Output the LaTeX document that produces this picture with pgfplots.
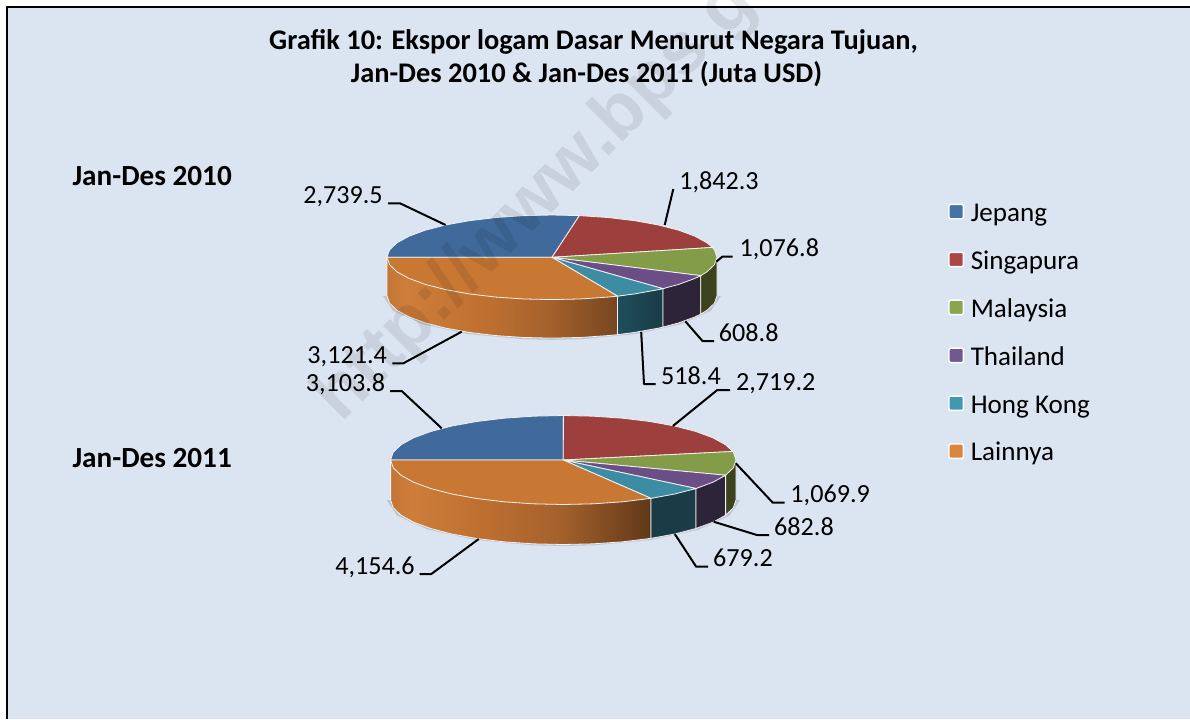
\documentclass[border=0pt]{standalone}
\usepackage{fontspec}
\setmainfont{Carlito}
\newfontfamily\wmfont{Liberation Sans}
\usepackage{pgfplots}
\pgfplotsset{compat=1.18}

\definecolor{bg}{RGB}{219,229,241}
\definecolor{jep}{RGB}{64,106,155}
\definecolor{sin}{RGB}{157,63,61}
\definecolor{mal}{RGB}{130,156,72}
\definecolor{tha}{RGB}{107,78,134}
\definecolor{hk}{RGB}{60,141,164}
\definecolor{lai}{RGB}{201,120,52}
\definecolor{malw}{RGB}{60,66,30}
\definecolor{thaw}{RGB}{46,36,58}
\definecolor{hkl}{RGB}{32,78,92}
\definecolor{hkr}{RGB}{25,60,70}
\definecolor{shadow}{RGB}{188,196,210}
\definecolor{w0}{RGB}{196,118,55}
\definecolor{w1}{RGB}{206,126,58}
\definecolor{w2}{RGB}{190,111,48}
\definecolor{w3}{RGB}{165,97,44}
\definecolor{w4}{RGB}{118,70,32}
\definecolor{w5}{RGB}{96,56,24}
\definecolor{legjep}{RGB}{69,114,167}
\definecolor{legsin}{RGB}{170,70,67}
\definecolor{legmal}{RGB}{137,165,78}
\definecolor{legtha}{RGB}{113,88,143}
\definecolor{leghk}{RGB}{65,152,175}
\definecolor{leglai}{RGB}{219,132,61}
% pgf fits the 25bp--75bp part of a shading to the path
\pgfdeclarehorizontalshading{wallA}{100bp}{color(0bp)=(w0); color(25bp)=(w0); color(29bp)=(w1); color(47.5bp)=(w2); color(60bp)=(w3); color(75bp)=(w4); color(100bp)=(w4)}
\pgfdeclarehorizontalshading{wallB}{100bp}{color(0bp)=(w0); color(25bp)=(w0); color(29bp)=(w1); color(42.5bp)=(w2); color(57.5bp)=(w3); color(75bp)=(w5); color(100bp)=(w5)}

\tikzset{
    lab/.style={font=\fontsize{19.6}{24}\selectfont, inner sep=0pt, anchor=base west},
    head/.style={font=\fontsize{21.3}{26}\selectfont\bfseries, inner sep=0pt},
    year/.style={font=\fontsize{21.9}{26}\selectfont\bfseries, inner sep=0pt, anchor=base west},
}

\begin{document}
\begin{tikzpicture}
\begin{axis}[
    scale only axis, width=892.5pt, height=539.25pt,
    xmin=0, xmax=1190, ymin=0, ymax=719, y dir=reverse,
    hide axis,
    face/.style={forget plot, draw=white!90!gray, line width=0.6pt, line join=round},
    lead/.style={forget plot, black, line width=1.5pt, line join=round},
    legend image code/.code={\draw[#1, rounded corners=1pt] (-5.4pt,-3.1pt) rectangle (5.4pt,7.7pt);},
    legend cell align=left,
    legend style={at={(axis cs:948,201)}, anchor=north west, draw=none, fill=none,
        font=\fontsize{20.3}{24}\selectfont, inner sep=0pt, row sep=15.95pt, column sep=5pt,
        nodes={text height=15pt, text depth=5pt, inner sep=0pt}},
]
% page and frame
\addplot[forget plot, draw=none, fill=white] coordinates {(0,0)(1190,0)(1190,719)(0,719)} --cycle;
\addplot[forget plot, draw=none, fill=bg] coordinates {(7,7)(1190,7)(1190,719)(7,719)} --cycle;
\addplot[forget plot, black, line width=1.5pt] coordinates {(7,719)(7,7)(1190,7)};

% Jan-Des 2010: shadow, side walls, top slices
\addplot[forget plot, draw=none, fill=shadow] coordinates {(383,295.8)(393.2,310.85)(422.54,324.08)(467.5,333.9)(522.65,339.13)(552,339.8)(581.35,339.13)(636.5,333.9)(681.46,324.08)(710.8,310.85)(721,295.8)} --cycle;
\addplot[face, shading=wallA] coordinates {(617.56,296.12)(617.56,334.62)(608.43,335.55)(580.65,337.46)(552,338.1)(523.35,337.46)(495.57,335.55)(469.5,332.43)(445.94,328.2)(425.6,322.99)(409.11,316.95)(396.95,310.27)(389.51,303.15)(387,295.8)(387,257.3)} --cycle;
\addplot[face, left color=hkl, right color=hkr] coordinates {(662.94,288.61)(662.94,327.11)(658.06,328.2)(634.5,332.43)(617.56,334.62)(617.56,296.12)} --cycle;
\addplot[face, fill=thaw] coordinates {(700.75,275.6)(700.75,314.1)(694.89,316.95)(678.4,322.99)(662.94,327.11)(662.94,288.61)} --cycle;
\addplot[face, fill=malw] coordinates {(717,257.3)(717,295.8)(714.49,303.15)(707.05,310.27)(700.75,314.1)(700.75,275.6)} --cycle;
\addplot[face, fill=jep] coordinates {(552,257.3)(387,257.3)(389.51,249.95)(396.95,242.83)(409.11,236.15)(425.6,230.11)(445.94,224.9)(469.5,220.67)(495.57,217.55)(523.35,215.64)(552,215)(579.37,215.59)} --cycle;
\addplot[face, fill=sin] coordinates {(552,257.3)(579.37,215.59)(608.43,217.55)(634.5,220.67)(658.06,224.9)(678.4,230.11)(694.89,236.15)(707.05,242.83)(712.44,247.43)} --cycle;
\addplot[face, fill=mal] coordinates {(552,257.3)(712.44,247.43)(714.49,249.95)(717,257.3)(714.49,264.65)(707.05,271.77)(700.75,275.6)} --cycle;
\addplot[face, fill=tha] coordinates {(552,257.3)(700.75,275.6)(694.89,278.45)(678.4,284.49)(662.94,288.61)} --cycle;
\addplot[face, fill=hk] coordinates {(552,257.3)(662.94,288.61)(658.06,289.7)(634.5,293.93)(617.56,296.12)} --cycle;
\addplot[face, fill=lai] coordinates {(552,257.3)(617.56,296.12)(608.43,297.05)(580.65,298.96)(552,299.6)(523.35,298.96)(495.57,297.05)(469.5,293.93)(445.94,289.7)(425.6,284.49)(409.11,278.45)(396.95,271.77)(389.51,264.65)(387,257.3)} --cycle;

% Jan-Des 2011
\addplot[forget plot, draw=none, fill=shadow] coordinates {(386.6,500)(397.26,515.73)(427.94,529.57)(474.95,539.84)(532.62,545.3)(563.3,546)(593.98,545.3)(651.65,539.84)(698.66,529.57)(729.34,515.73)(740,500)} --cycle;
\addplot[face, shading=wallB] coordinates {(651.03,498.33)(651.03,538.33)(622.37,541.82)(593.29,543.82)(563.3,544.5)(533.31,543.82)(504.23,541.82)(476.95,538.54)(452.29,534.09)(431,528.6)(413.74,522.25)(401.01,515.22)(393.22,507.73)(390.6,500)(390.6,460)} --cycle;
\addplot[face, fill=hkr] coordinates {(696.04,488.47)(696.04,528.47)(674.31,534.09)(651.03,538.33)(651.03,498.33)} --cycle;
\addplot[face, fill=thaw] coordinates {(725.63,475.19)(725.63,515.19)(712.86,522.25)(696.04,528.47)(696.04,488.47)} --cycle;
\addplot[face, fill=malw] coordinates {(736,460)(736,500)(733.38,507.73)(725.63,515.19)(725.63,475.19)} --cycle;
\addplot[face, fill=jep] coordinates {(563.3,460)(390.6,460)(393.22,452.27)(401.01,444.78)(413.74,437.75)(431,431.4)(452.29,425.91)(476.95,421.46)(504.23,418.18)(533.31,416.18)(563.4,415.5)} --cycle;
\addplot[face, fill=sin] coordinates {(563.3,460)(563.4,415.5)(593.29,416.18)(622.37,418.18)(649.65,421.46)(674.31,425.91)(695.6,431.4)(712.86,437.75)(725.59,444.78)(732.78,451.45)} --cycle;
\addplot[face, fill=mal] coordinates {(563.3,460)(732.78,451.45)(733.38,452.27)(736,460)(733.38,467.73)(725.63,475.19)} --cycle;
\addplot[face, fill=tha] coordinates {(563.3,460)(725.63,475.19)(712.86,482.25)(696.04,488.47)} --cycle;
\addplot[face, fill=hk] coordinates {(563.3,460)(696.04,488.47)(674.31,494.09)(651.03,498.33)} --cycle;
\addplot[face, fill=lai] coordinates {(563.3,460)(651.03,498.33)(622.37,501.82)(593.29,503.82)(563.3,504.5)(533.31,503.82)(504.23,501.82)(476.95,498.54)(452.29,494.09)(431,488.6)(413.74,482.25)(401.01,475.22)(393.22,467.73)(390.6,460)} --cycle;

% watermark
\node[overlay, rotate=45, anchor=base west, inner sep=0pt, text=black, text opacity=0.085,
    font=\fontsize{55.2}{60}\selectfont\wmfont\bfseries] at (axis cs:341,424) {http://www.bps.go.id};

% leader lines
\addplot[lead] coordinates {(388,203.3)(400,203.3)(445.6,225)};
\addplot[lead] coordinates {(673.3,189)(664.7,225)};
\addplot[lead] coordinates {(732.5,256.7)(722.2,256.7)(716.3,261.7)};
\addplot[lead] coordinates {(685.3,321.3)(702.5,341)(714.2,341)};
\addplot[lead] coordinates {(641.2,332)(644,384)(655.7,384)};
\addplot[lead] coordinates {(461.7,331.7)(403.3,363.3)(392.3,363.3)};
\addplot[lead] coordinates {(390,391)(401.7,391)(441.7,428.3)};
\addplot[lead] coordinates {(730.2,390)(717.3,390)(672.9,426)};
\addplot[lead] coordinates {(735.8,463.3)(772.8,502.7)(784.6,502.7)};
\addplot[lead] coordinates {(713.6,521.7)(756.9,535)(769,535)};
\addplot[lead] coordinates {(674.8,534)(696.2,566.7)(708,566.7)};
\addplot[lead] coordinates {(478.7,539)(431.3,574)(419.5,574)};

% data labels
\node[lab] at (axis cs:303,203.3) {2,739.5};
\node[lab] at (axis cs:679,189.3) {1,842.3};
\node[lab] at (axis cs:739.4,256.7) {1,076.8};
\node[lab] at (axis cs:718.7,341) {608.8};
\node[lab] at (axis cs:660.9,384) {518.4};
\node[lab] at (axis cs:307.2,363.3) {3,121.4};
\node[lab] at (axis cs:305.5,391) {3,103.8};
\node[lab] at (axis cs:735.8,390) {2,719.2};
\node[lab] at (axis cs:790.2,502.7) {1,069.9};
\node[lab] at (axis cs:773.9,535) {682.8};
\node[lab] at (axis cs:712.9,566.7) {679.2};
\node[lab] at (axis cs:335,574) {4,154.6};

% titles
\node[head, anchor=base] at (axis cs:593.5,49) {Grafik 10: Ekspor logam Dasar Menurut Negara Tujuan,};
\node[head, anchor=base] at (axis cs:586.5,82.7) {Jan-Des 2010 \& Jan-Des 2011 (Juta USD)};
\node[year] at (axis cs:72.3,185) {Jan-Des 2010};
\node[year] at (axis cs:72.3,467) {Jan-Des 2011};

% legend
\addlegendimage{fill=legjep, draw=white, line width=1.1pt}
\addlegendimage{fill=legsin, draw=white, line width=1.1pt}
\addlegendimage{fill=legmal, draw=white, line width=1.1pt}
\addlegendimage{fill=legtha, draw=white, line width=1.1pt}
\addlegendimage{fill=leghk, draw=white, line width=1.1pt}
\addlegendimage{fill=leglai, draw=white, line width=1.1pt}
\legend{Jepang,Singapura,Malaysia,Thailand,Hong Kong,Lainnya}
\end{axis}
\end{tikzpicture}
\end{document}
